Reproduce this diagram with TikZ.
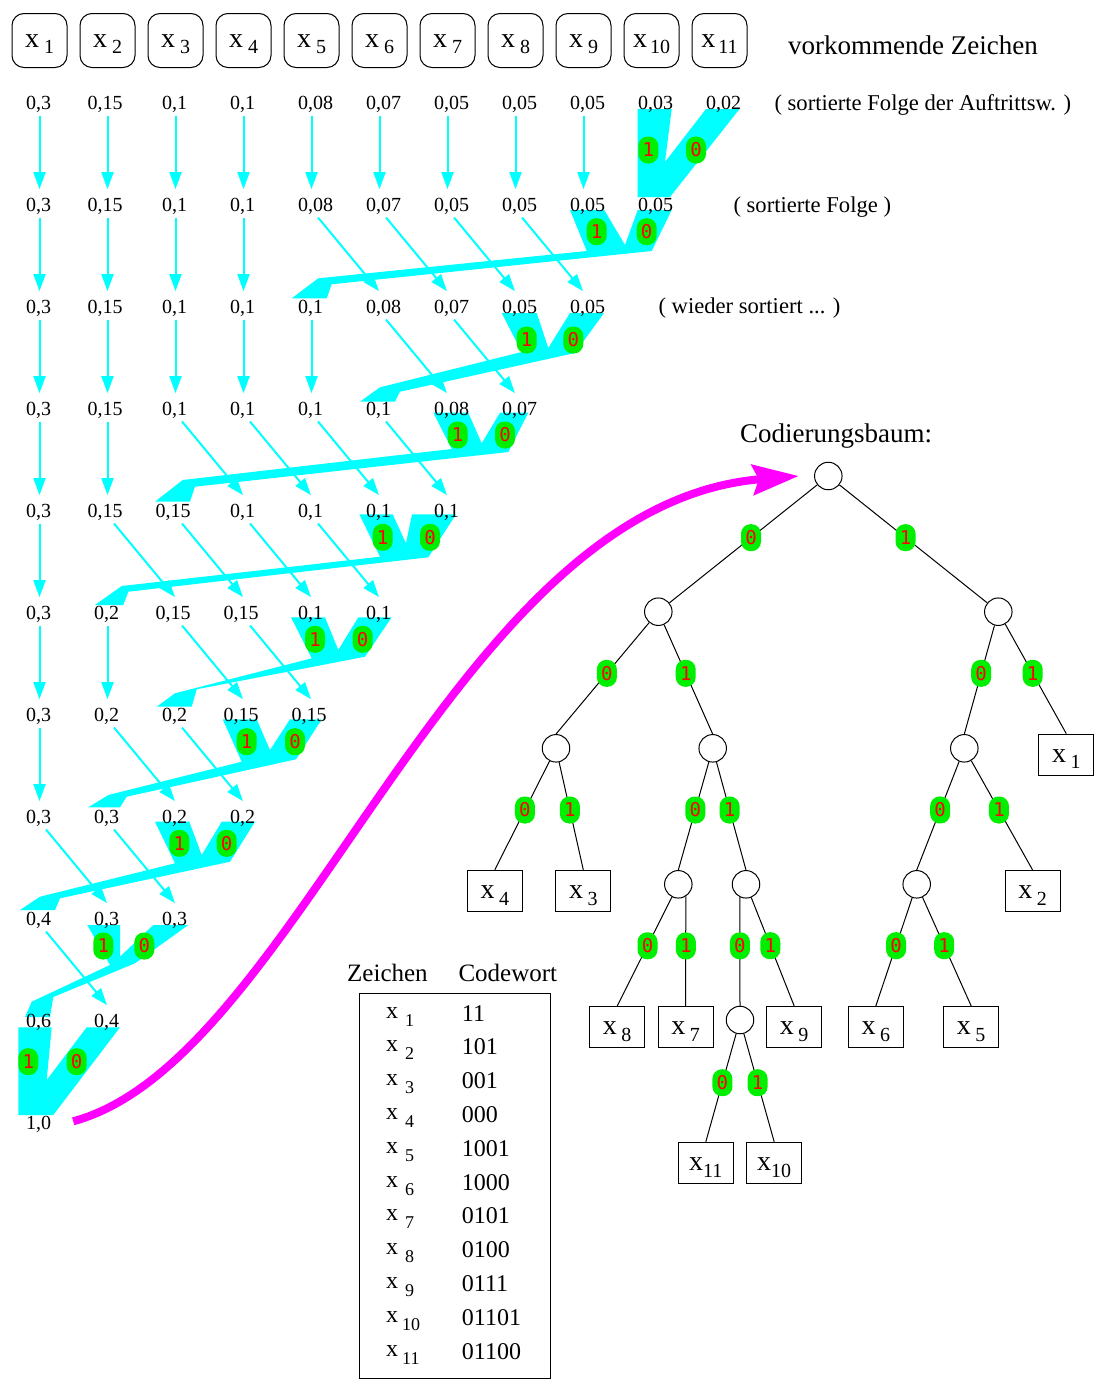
\documentclass[tikz,border=0pt]{standalone}
\usepackage{fontspec}
\setmainfont{Liberation Serif}
\newfontfamily\badgefont{DejaVu Sans Mono}
\usetikzlibrary{arrows.meta}
\definecolor{flowcyan}{RGB}{0,255,255}
\definecolor{badgegreen}{RGB}{0,238,0}
\definecolor{flowmag}{RGB}{255,0,255}
\def\fifteen{0,15}
\newcommand\fs[1]{\fontsize{#1}{#1}\selectfont}
\newcommand\valbox[1]{\edef\tmpv{#1}\ifx\tmpv\fifteen\makebox[40pt][l]{#1}\else\makebox[27pt][l]{#1}\fi}
\newcommand\leafx[2]{x\hspace{#2}\raisebox{-6.7pt}{\fs{20}#1}}
\newcommand\tabx[2]{x\hspace{#2}\raisebox{-8pt}{\fs{18}#1}}
\newcommand\valrow[3]{%
  \foreach \v [count=\i from 0] in {#3} {
    \node[val] (v-#1-\i) at ({39.5+68*\i},#2) {\valbox{\v}};
  }}
\newcommand\tbadge[5]{\node[badge] (#1) at (intersection of #2--#3 and 0,#4--1,#4) {#5};}
\begin{document}
\begin{tikzpicture}[x=1pt,y=-1pt,
  val/.style={inner sep=0pt, text height=22pt, text depth=6pt, anchor=base, font=\fs{20}},
  flow/.style={draw=flowcyan, line width=2pt, -{Triangle[length=17pt,width=12pt]}},
  band/.style={fill=flowcyan},
  badge/.style={fill=badgegreen, rounded corners=9.5pt, minimum width=20pt, minimum height=27pt, inner sep=0pt, text=red, font=\badgefont\fs{19}},
  topbox/.style={draw, line width=1pt, rounded corners=12pt, minimum width=55pt, minimum height=54pt, inner sep=0pt, text height=18pt, text depth=3.6pt, font=\fs{28}},
  tnode/.style={circle, draw, fill=white, line width=1pt, minimum size=27.5pt, inner sep=0pt},
  leaf/.style={draw, line width=1pt, minimum width=55pt, minimum height=41pt, inner sep=0pt, text height=18pt, text depth=3pt, font=\fs{28}},
  tedge/.style={line width=1pt},
  note/.style={anchor=base west, inner sep=0pt, font=\fs{22.6}},
  head/.style={anchor=base west, inner sep=0pt, font=\fs{27}},
  tabtxt/.style={anchor=base west, inner sep=0pt, font=\fs{24}},
  tabhead/.style={anchor=base west, inner sep=0pt, font=\fs{25}},
  magarrow/.style={draw=flowmag, line width=8pt, -{Stealth[length=46pt,width=30pt,inset=6pt]}}
]
\useasboundingbox (0,0) rectangle (1096,1387);

% ---------- merge shapes ----------
\fill[band] (637.7,109) -- (671.7,109) -- (665,162) -- (706,109) -- (739.5,109) -- (670,197) -- (637.7,197) -- cycle;
\fill[band] (570,210) -- (604.3,210) -- (625,245) -- (637.7,210) -- (671.7,210) -- (651.7,251) -- (331.7,284.3) -- (326.7,298.3) -- (291.7,298.3) -- (318.3,278.3) -- (586.7,251) -- cycle;
\fill[band] (501.7,313) -- (536.7,313) -- (548.3,348) -- (570,313) -- (604,313) -- (575,353) -- (400,391.7) -- (395,401.7) -- (360,401.7) -- (380,387.3) -- (521.7,352) -- cycle;
\fill[band] (433.3,412.7) -- (468.3,412.7) -- (481.7,443.3) -- (500,412.7) -- (528.3,412.7) -- (508.3,452) -- (195,486.7) -- (190,501.7) -- (155,501.7) -- (182.7,480) -- (451.7,449) -- cycle;
\fill[band] (359.3,514.3) -- (392.7,514.3) -- (406,543.3) -- (412,514.3) -- (456,514.3) -- (428.3,557.3) -- (128.3,591.7) -- (123.3,605) -- (95,605) -- (121.7,586) -- (380,556.7) -- cycle;
\fill[band] (291,617.3) -- (325,617.3) -- (338.3,650) -- (358.3,617.3) -- (391.7,617.3) -- (365,656.7) -- (196.7,689.3) -- (191.7,706.7) -- (156.7,706.7) -- (175,693.3) -- (311.7,658.3) -- cycle;
\fill[band] (222.7,719.3) -- (256.7,719.3) -- (270,750) -- (290,719.3) -- (321.7,719.3) -- (296,759.3) -- (126.7,796.7) -- (120,807.3) -- (88.3,807.3) -- (108.3,795) -- (241.7,761.7) -- cycle;
\fill[band] (155,821.7) -- (189.3,821.7) -- (201.7,855) -- (221.7,821.7) -- (255,821.7) -- (230,861.7) -- (60,898.3) -- (55,910) -- (20,910) -- (40,896.7) -- (175,863.3) -- cycle;
\fill[band] (87.3,925) -- (120,925) -- (120,956.7) -- (153.3,925) -- (188.3,925) -- (135,963.3) -- (53.3,997) -- (50,1017) -- (25,1017) -- (31.7,1001.7) -- (110,965) -- cycle;
\fill[band] (18.3,1027.3) -- (51.7,1027.3) -- (46.7,1080) -- (86.7,1027.3) -- (120,1027.3) -- (53.3,1115) -- (18.3,1115) -- cycle;

% ---------- top boxes ----------
\foreach \i in {1,...,11} {
  \ifnum\i<10 \def\gap{5pt}\else\def\gap{3pt}\fi
  \node[topbox] (top-\i) at ({39.5+68*(\i-1)},40.5) {x\hspace{\gap}\raisebox{-5.6pt}{\fs{20}\i}};
}
\node[head] (hdr) at (788,54) {vorkommende Zeichen};

% ---------- value rows ----------
\valrow{0}{109.3}{{0,3},{0,15},{0,1},{0,1},{0,08},{0,07},{0,05},{0,05},{0,05},{0,03},{0,02}}
\valrow{1}{211.3}{{0,3},{0,15},{0,1},{0,1},{0,08},{0,07},{0,05},{0,05},{0,05},{0,05}}
\valrow{2}{313.3}{{0,3},{0,15},{0,1},{0,1},{0,1},{0,08},{0,07},{0,05},{0,05}}
\valrow{3}{415.3}{{0,3},{0,15},{0,1},{0,1},{0,1},{0,1},{0,08},{0,07}}
\valrow{4}{517.3}{{0,3},{0,15},{0,15},{0,1},{0,1},{0,1},{0,1}}
\valrow{5}{619.3}{{0,3},{0,2},{0,15},{0,15},{0,1},{0,1}}
\valrow{6}{721.3}{{0,3},{0,2},{0,2},{0,15},{0,15}}
\valrow{7}{823.3}{{0,3},{0,3},{0,2},{0,2}}
\valrow{8}{925.3}{{0,4},{0,3},{0,3}}
\valrow{9}{1027.3}{{0,6},{0,4}}
\valrow{10}{1129.3}{{1,0}}

\node[note] (lab0) at (774.3,110) {( sortierte Folge der Auftrittsw. )};
\node[note] (lab1) at (733.3,212.7) {( sortierte Folge )};
\node[note] (lab2) at (658.3,313.3) {( wieder sortiert ... )};

% ---------- arrows ----------
\foreach \i in {0,...,8} \draw[flow] (v-0-\i.south) -- (v-1-\i.north);
\foreach \i in {0,...,3} \draw[flow] (v-1-\i.south) -- (v-2-\i.north);
\foreach \i/\j in {4/5,5/6,6/7,7/8} \draw[flow] ([xshift=6.5pt]v-1-\i.south) -- ([xshift=-0.5pt]v-2-\j.north);
\foreach \i in {0,...,4} \draw[flow] (v-2-\i.south) -- (v-3-\i.north);
\foreach \i/\j in {5/6,6/7} \draw[flow] ([xshift=6.5pt]v-2-\i.south) -- ([xshift=-0.5pt]v-3-\j.north);
\foreach \i in {0,1} \draw[flow] (v-3-\i.south) -- (v-4-\i.north);
\foreach \i/\j in {2/3,3/4,4/5,5/6} \draw[flow] ([xshift=6.5pt]v-3-\i.south) -- ([xshift=-0.5pt]v-4-\j.north);
\draw[flow] (v-4-0.south) -- (v-5-0.north);
\foreach \i/\j in {1/2,2/3,3/4,4/5} \draw[flow] ([xshift=6.5pt]v-4-\i.south) -- ([xshift=-0.5pt]v-5-\j.north);
\foreach \i in {0,1} \draw[flow] (v-5-\i.south) -- (v-6-\i.north);
\foreach \i/\j in {2/3,3/4} \draw[flow] ([xshift=6.5pt]v-5-\i.south) -- ([xshift=-0.5pt]v-6-\j.north);
\draw[flow] (v-6-0.south) -- (v-7-0.north);
\foreach \i/\j in {1/2,2/3} \draw[flow] ([xshift=6.5pt]v-6-\i.south) -- ([xshift=-0.5pt]v-7-\j.north);
\foreach \i/\j in {0/1,1/2} \draw[flow] ([xshift=6.5pt]v-7-\i.south) -- ([xshift=-0.5pt]v-8-\j.north);
\draw[flow] ([xshift=6.5pt]v-8-0.south) -- ([xshift=-0.5pt]v-9-1.north);

% ---------- merge badges ----------
\node[badge] (m0a) at (648.3,150) {1};   \node[badge] (m0b) at (696,150) {0};
\node[badge] (m1a) at (596.7,231.7) {1}; \node[badge] (m1b) at (646.7,231.7) {0};
\node[badge] (m2a) at (526.7,340) {1};   \node[badge] (m2b) at (573.3,340) {0};
\node[badge] (m3a) at (457.7,435) {1};   \node[badge] (m3b) at (505,435) {0};
\node[badge] (m4a) at (382.7,537.3) {1}; \node[badge] (m4b) at (430,537.3) {0};
\node[badge] (m5a) at (315,639.3) {1};   \node[badge] (m5b) at (362.7,639.3) {0};
\node[badge] (m6a) at (246.7,741.7) {1}; \node[badge] (m6b) at (295,741.7) {0};
\node[badge] (m7a) at (179.3,843.3) {1}; \node[badge] (m7b) at (226.7,843.3) {0};
\node[badge] (m8a) at (103.3,946) {1};   \node[badge] (m8b) at (144.3,946) {0};
\node[badge] (m9a) at (28.3,1061.7) {1}; \node[badge] (m9b) at (76.7,1061.7) {0};

% ---------- tree ----------
\node[head] (treehdr) at (740,442) {Codierungsbaum:};
\node[tnode] (R) at (828.3,476) {};
\node[tnode] (L) at (658.3,611.7) {};
\node[tnode] (Rt) at (998.3,611.7) {};
\node[tnode] (LL) at (556,748.3) {};
\node[tnode] (LR) at (712.7,748.3) {};
\node[tnode] (RL) at (964.3,748.3) {};
\node[tnode] (LRL) at (678.3,884.3) {};
\node[tnode] (LRR) at (746,884.3) {};
\node[tnode] (RLL) at (916.7,884.3) {};
\node[tnode] (LRRL) at (740,1020) {};
\node[leaf] (lx1) at (1066.3,754.7) {\leafx{1}{4.5pt}};
\node[leaf] (lx4) at (494.8,890.8) {\leafx{4}{4.5pt}};
\node[leaf] (lx3) at (583.3,890.8) {\leafx{3}{4.5pt}};
\node[leaf] (lx2) at (1032.5,890.8) {\leafx{2}{4.5pt}};
\node[leaf] (lx8) at (617.2,1027) {\leafx{8}{4.5pt}};
\node[leaf] (lx7) at (685.5,1027) {\leafx{7}{4.5pt}};
\node[leaf] (lx9) at (794.2,1027) {\leafx{9}{4.5pt}};
\node[leaf] (lx6) at (875.8,1027) {\leafx{6}{4.5pt}};
\node[leaf] (lx5) at (971.2,1027) {\leafx{5}{4.5pt}};
\node[leaf] (lx11) at (705.8,1162.8) {\leafx{11}{0pt}};
\node[leaf] (lx10) at (774.2,1162.8) {\leafx{10}{0pt}};

\draw[tedge] (R) -- (L);
\draw[tedge] (R) -- (Rt);
\draw[tedge] (L) -- (LL.north);
\draw[tedge] (L) -- (LR.north);
\draw[tedge] (Rt) -- (RL.north);
\draw[tedge] (Rt) -- (lx1.north);
\draw[tedge] (LL) -- (lx4.north);
\draw[tedge] (LL) -- (lx3.north);
\draw[tedge] (LR) -- (LRL.north);
\draw[tedge] (LR) -- (LRR.north);
\draw[tedge] (RL) -- (RLL.north);
\draw[tedge] (RL) -- (lx2.north);
\draw[tedge] (LRL) -- (lx8.north);
\draw[tedge] (LRL.-58) -- (lx7.north);
\draw[tedge] (LRR.-116) -- (LRRL.north);
\draw[tedge] (LRR) -- (lx9.north);
\draw[tedge] (RLL) -- (lx6.north);
\draw[tedge] (RLL) -- (lx5.north);
\draw[tedge] (LRRL) -- (lx11.north);
\draw[tedge] (LRRL) -- (lx10.north);

\tbadge{t1}{R}{L}{537.7}{0}
\tbadge{t2}{R}{Rt}{537.7}{1}
\tbadge{t3}{L}{LL.north}{673.3}{0}
\tbadge{t4}{L}{LR.north}{673.3}{1}
\tbadge{t5}{Rt}{RL.north}{673.3}{0}
\tbadge{t6}{Rt}{lx1.north}{673.3}{1}
\tbadge{t7}{LL}{lx4.north}{810}{0}
\tbadge{t8}{LL}{lx3.north}{810}{1}
\tbadge{t9}{LR}{LRL.north}{810}{0}
\tbadge{t10}{LR}{LRR.north}{810}{1}
\tbadge{t11}{RL}{RLL.north}{810}{0}
\tbadge{t12}{RL}{lx2.north}{810}{1}
\tbadge{t13}{LRL}{lx8.north}{945.7}{0}
\tbadge{t14}{LRL.-58}{lx7.north}{945.7}{1}
\tbadge{t15}{LRR.-116}{LRRL.north}{945.7}{0}
\tbadge{t16}{LRR}{lx9.north}{945.7}{1}
\tbadge{t17}{RLL}{lx6.north}{945.7}{0}
\tbadge{t18}{RLL}{lx5.north}{945.7}{1}
\tbadge{t19}{LRRL}{lx11.north}{1082.7}{0}
\tbadge{t20}{LRRL}{lx10.north}{1082.7}{1}

% ---------- magenta arrow ----------
\draw[magarrow] ([xshift=20pt]v-10-0.east) .. controls (300,1060) and (450,505) .. ([xshift=-15.25pt]R.west);

% ---------- table ----------
\node[tabhead] (thz) at (347,981.7) {Zeichen};
\node[tabhead] (thc) at (458.3,981.7) {Codewort};
\node[draw, line width=1pt, anchor=north west, minimum width=190.7pt, minimum height=385.6pt, inner sep=0pt] (tabbox) at (359.3,992.7) {};
\foreach \k/\c in {1/11,2/101,3/001,4/000,5/1001,6/1000,7/0101,8/0100,9/0111,10/01101,11/01100} {
  \ifnum\k<10 \def\gap{7pt}\else\def\gap{4pt}\fi
  \node[tabtxt] (tx-\k) at (386,{1018+33.8*(\k-1)}) {\tabx{\k}{\gap}};
  \node[tabtxt] (tc-\k) at (461.7,{1021+33.8*(\k-1)}) {\c};
}
\end{tikzpicture}
\end{document}
